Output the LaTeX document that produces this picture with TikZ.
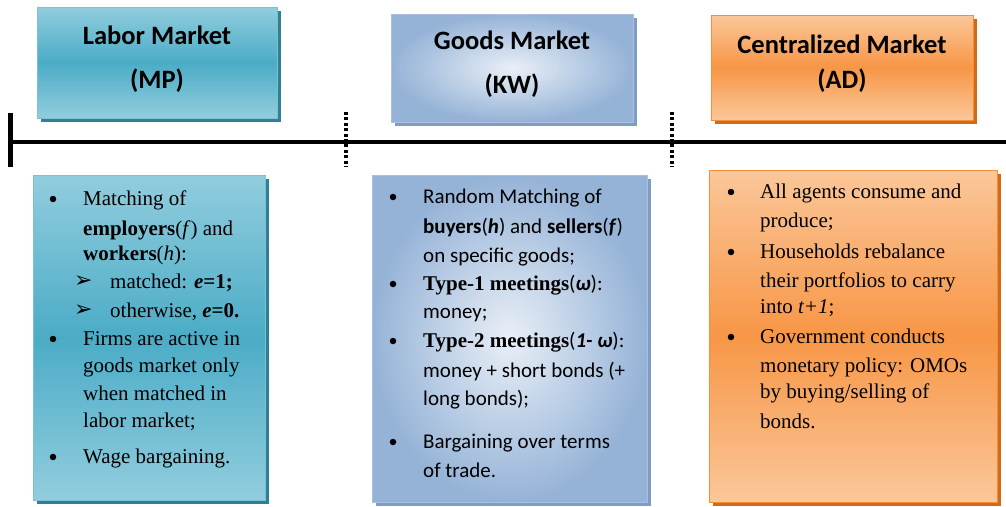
\documentclass[tikz,border=0pt]{standalone}
\usepackage{fontspec}
\setmainfont{Liberation Serif}
\newfontfamily\calibri{Carlito}
\newfontfamily\dejavu{DejaVu Sans}
\usetikzlibrary{shadows}

\definecolor{mplight}{HTML}{92CDDE}
\definecolor{mpmid}{HTML}{4BACC6}
\definecolor{mpedge}{HTML}{7CC0D4}
\definecolor{mpshadow}{HTML}{2F7F95}
\definecolor{kwouter}{HTML}{95B3D7}
\definecolor{kwinner}{HTML}{E9EFF7}
\definecolor{kwedge}{HTML}{A9C0DE}
\definecolor{kwshadow}{HTML}{7F9CC4}
\definecolor{adlight}{HTML}{FBC79A}
\definecolor{admid}{HTML}{F79646}
\definecolor{adedge}{HTML}{F58E3A}
\definecolor{adshadow}{HTML}{D26A18}

\tikzset{
  panel/.style={rectangle, inner sep=0pt, line width=0.8pt},
  mpbox/.style={panel, draw=mpedge, top color=mplight, bottom color=mplight, middle color=mpmid,
    drop shadow={shadow xshift=4pt, shadow yshift=-4pt, fill=mpshadow, opacity=1}},
  kwbox/.style={panel, draw=kwedge, shading=radial, inner color=kwinner, outer color=kwouter,
    drop shadow={shadow xshift=4pt, shadow yshift=-4pt, fill=kwshadow, opacity=1}},
  adbox/.style={panel, draw=adedge, top color=adlight, bottom color=adlight, middle color=admid,
    drop shadow={shadow xshift=4pt, shadow yshift=-4pt, fill=adshadow, opacity=1}},
  head/.style={anchor=base, inner sep=0pt, font=\calibri\bfseries\fontsize{26.5}{30}\selectfont},
  txt/.style={anchor=base west, inner sep=0pt, font=\fontsize{21}{25}\selectfont},
  ctxt/.style={anchor=base west, inner sep=0pt, font=\calibri\fontsize{21}{25}\selectfont},
  dot/.style={circle, fill=black, inner sep=0pt, minimum size=6.5pt},
  arr/.style={anchor=base west, inner sep=0pt, font=\dejavu\bfseries\fontsize{22}{24}\selectfont},
  timeline/.style={line width=4.5pt},
  divider/.style={line width=4pt, dash pattern=on 3pt off 2.4pt},
}

\begin{document}
\begin{tikzpicture}[x=1pt, y=-1pt]
\useasboundingbox (0,0) rectangle (1006,506);
\fill[white] (0,0) rectangle (1006,506);

% ---- timeline ----
\coordinate (t0) at (10,142);
\coordinate (t1) at (1006,142);
\coordinate (tk0) at (10,113);
\coordinate (tk1) at (10,167);
\coordinate (d1a) at (346,112);
\coordinate (d1b) at (346,167);
\coordinate (d2a) at (672,112);
\coordinate (d2b) at (672,167);
\draw[timeline] (t0) -- (t1);
\draw[timeline, line width=5pt] (tk0) -- (tk1);
\draw[divider] (d1a) -- (d1b);
\draw[divider] (d2a) -- (d2b);

% ---- headers ----
\node[mpbox, minimum width=240pt, minimum height=111pt] (mphead) at (157,62.5) {};
\node[head] (mpt1) at (157,44) {Labor Market};
\node[head] (mpt2) at (157,88) {(MP)};

\node[kwbox, minimum width=242pt, minimum height=108pt] (kwhead) at (512,68) {};
\node[head] (kwt1) at (512,49) {Goods Market};
\node[head] (kwt2) at (512,93) {(KW)};

\node[adbox, minimum width=262pt, minimum height=105pt] (adhead) at (842,67.5) {};
\node[head] (adt1) at (842,53) {Centralized Market};
\node[head] (adt2) at (842,88) {(AD)};

% ---- bodies ----
\node[mpbox, minimum width=232pt, minimum height=325pt] (mpbody) at (149,337.5) {};
\node[kwbox, minimum width=275pt, minimum height=327pt] (kwbody) at (509.5,338.5) {};
\node[adbox, minimum width=288pt, minimum height=332pt] (adbody) at (853,336) {};

% labor market items
\foreach \yy [count=\i] in {205,345,463}
  \node[dot] (mpdot\i) at (53,\yy-6) {};
\foreach \yy [count=\i] in {287,316}
  \node[arr] (mparr\i) at (74,\yy) {➢};
\foreach \yy/\xx/\t [count=\i] in {
  205/83/{Matching of},
  235/83/{\textbf{employers}(\textit{f}) and},
  260/83/{\textbf{workers}(\textit{h}):},
  288/110/{matched: \textbf{\textit{e}=1;}},
  317/110/{otherwise, \textbf{\textit{e}=0.}},
  345/83/{Firms are active in},
  372/83/{goods market only},
  400/83/{when matched in},
  427/83/{labor market;},
  463/83/{Wage bargaining.}}
  \node[txt] (mpl\i) at (\xx,\yy) {\t};

% goods market items
\foreach \yy [count=\i] in {203,290,347,448}
  \node[dot] (kwdot\i) at (393,\yy-6) {};
\foreach \yy/\t [count=\i] in {
  203/{Random Matching of},
  233/{\textbf{buyers}(\textbf{\textit{h}}) and \textbf{sellers}(\textbf{\textit{f}})},
  262/{on specific goods;},
  290/{{\rmfamily\textbf{Type-1 meetings}}(\textbf{\textit{ω}}):},
  318/{money;},
  347/{{\rmfamily\textbf{Type-2 meetings}}(\textbf{\textit{1-~ω}}):},
  377/{money + short bonds (+},
  405/{long bonds);},
  448/{Bargaining over terms},
  477/{of trade.}}
  \node[ctxt] (kwl\i) at (423,\yy) {\t};

% centralized market items
\foreach \yy [count=\i] in {198,258,343}
  \node[dot] (addot\i) at (731,\yy-6) {};
\foreach \yy/\t [count=\i] in {
  198/{All agents consume and},
  227/{produce;},
  258/{Households rebalance},
  287/{their portfolios to carry},
  313/{into \textit{t+1};},
  343/{Government conducts},
  372/{monetary policy: OMOs},
  398/{by buying/selling of},
  428/{bonds.}}
  \node[txt] (adl\i) at (760,\yy) {\t};
\end{tikzpicture}
\end{document}
